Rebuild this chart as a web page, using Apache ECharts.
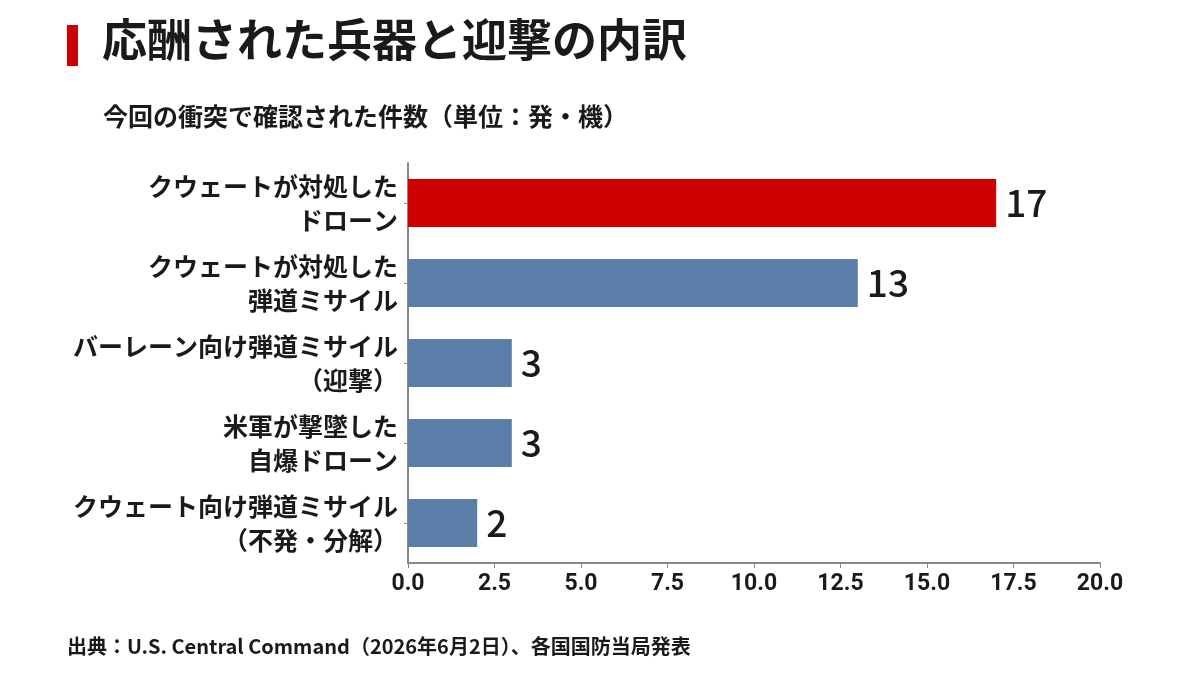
<!DOCTYPE html>
<html>
<head>
<meta charset="utf-8">
<script src="https://cdn.jsdelivr.net/npm/echarts@6/dist/echarts.min.js"></script>
<style>
html,body{margin:0;padding:0;background:#fff;}
#chart{width:1200px;height:675px;}
</style>
</head>
<body>
<div id="chart"></div>
<script>
'use strict';

// カテゴリ（上から順）
var categories = [
    'クウェートが対処した\nドローン',
    'クウェートが対処した\n弾道ミサイル',
    'バーレーン向け弾道ミサイル\n（迎撃）',
    '米軍が撃墜した\n自爆ドローン',
    'クウェート向け弾道ミサイル\n（不発・分解）'
];
// 件数
var counts = [17, 13, 3, 3, 2];
// 強調するバー（赤）
var highlight = [true, false, false, false, false];
// x軸目盛
var xTicks = ['0.0', '2.5', '5.0', '7.5', '10.0', '12.5', '15.0', '17.5', '20.0'];

var FONT = '"Noto Sans CJK JP", "Noto Sans", sans-serif';
var NUM_FONT = '"Liberation Sans Narrow", "Roboto", "Noto Sans CJK JP", sans-serif';

var myChart = echarts.init(document.getElementById('chart'));

var barData = [];
for (var i = 0; i < counts.length; i++) {
    barData.push({
        value: counts[i],
        itemStyle: { color: highlight[i] ? '#cc0000' : '#5b7ea8' }
    });
}

var option = {
    backgroundColor: '#fff',
    animation: false,
    graphic: [
        // タイトル左の赤いマーク
        { type: 'rect', left: 67, top: 25, shape: { width: 11, height: 41 }, style: { fill: '#cc0000' } },
        { type: 'text', left: 102, top: 17, style: { text: '応酬された兵器と迎撃の内訳', font: 'bold 45px ' + FONT, fill: '#1a1a1a' } },
        { type: 'text', left: 103, top: 104, style: { text: '今回の衝突で確認された件数（単位：発・機）', font: 'bold 25px ' + FONT, fill: '#1a1a1a' } },
        { type: 'text', left: 67, top: 636, style: { text: '出典：U.S. Central Command（2026年6月2日）、各国国防当局発表', font: 'bold 20px ' + FONT, fill: '#1a1a1a' } }
    ],
    grid: { left: 408, right: 100, top: 163, bottom: 112, containLabel: false },
    xAxis: {
        type: 'value',
        min: 0,
        max: 20,
        interval: 2.5,
        axisLine: { show: true, lineStyle: { color: '#888', width: 2 } },
        axisTick: { show: true, length: 5, lineStyle: { color: '#888' } },
        splitLine: { show: false },
        axisLabel: {
            margin: 10,
            fontFamily: NUM_FONT,
            fontSize: 23,
            fontWeight: 'bold',
            color: '#1a1a1a',
            formatter: function (v) { return xTicks[Math.round(v / 2.5)]; }
        }
    },
    yAxis: {
        type: 'category',
        inverse: true,
        data: categories,
        axisLine: { show: true, lineStyle: { color: '#888', width: 2 } },
        axisTick: { show: true, alignWithLabel: true, length: 4, lineStyle: { color: '#888' } },
        axisLabel: {
            margin: 10,
            fontFamily: FONT,
            fontSize: 25,
            fontWeight: 'bold',
            lineHeight: 34,
            align: 'right',
            color: '#1a1a1a'
        }
    },
    series: [{
        type: 'bar',
        data: barData,
        barCategoryGap: '40%',
        label: {
            show: true,
            position: 'right',
            distance: 9,
            fontFamily: FONT,
            fontSize: 37,
            fontWeight: 500,
            color: '#1a1a1a'
        }
    }]
};

myChart.setOption(option);
</script>
</body>
</html>
